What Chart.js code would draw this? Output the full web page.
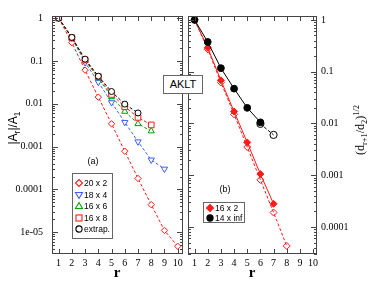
<!DOCTYPE html>
<html><head><meta charset="utf-8">
<script src="https://cdn.jsdelivr.net/npm/chart.js@4"></script>
<style>
html,body{margin:0;padding:0;background:#fff;}
#wrap{position:relative;width:374px;height:289px;overflow:hidden;background:#fff;}
canvas{position:absolute;left:0;top:0;}
.t{position:absolute;white-space:nowrap;color:#000;line-height:1;}
.sans{font-family:'Liberation Sans',Arial,sans-serif;}
.serif{font-family:'Liberation Serif','Times New Roman',serif;}
.box{position:absolute;border:1px solid #666;box-sizing:border-box;background:#fff;}
.rot{transform:translate(-50%,-50%) rotate(-90deg);}
.ctr{transform:translate(-50%,-50%);}
sub,sup{font-size:70%;line-height:0;}
</style></head>
<body><div id="wrap">
<canvas id="cL" width="374" height="289"></canvas>
<canvas id="cR" width="374" height="289"></canvas>
<div class="t sans rot" style="left:13px;top:128px;font-size:12px;">|A<sub>r</sub>|/A<sub>1</sub></div>
<div class="t serif rot" style="left:360px;top:130px;font-size:12px;">(d<sub>r+1</sub>/d<sub>2</sub>)<sup>1/2</sup></div>
<div class="t serif ctr" style="left:117px;top:272px;font-size:15px;font-weight:bold;">r</div>
<div class="t serif ctr" style="left:252px;top:272px;font-size:15px;font-weight:bold;">r</div>
<div class="box sans" style="left:163px;top:75px;width:40px;height:19px;font-size:11px;text-align:center;line-height:17px;">AKLT</div>
<div class="t sans ctr" style="left:93px;top:161px;font-size:9px;">(a)</div>
<div class="t sans ctr" style="left:225px;top:189px;font-size:9px;">(b)</div>
<div id="legA" class="box" style="left:72px;top:173px;width:41px;height:66px;background:transparent;"></div>
<div id="legB" class="box" style="left:203px;top:202px;width:42px;height:21px;background:transparent;"></div>
</div>
<script>
// ---------- data ----------
const rVals = [1, 2, 3, 4, 5, 6, 7, 8, 9, 10];
const xTickVals = [1, 2, 3, 4, 5, 6, 7, 8, 9, 10];

// panel (a): |A_r|/A_1
const a20x2  = [1, 0.267, 0.061, 0.0143, 0.0034, 0.00078, 0.00018, 0.000044, 0.000011, 0.0000047];
const a18x4  = [1, 0.34, 0.092, 0.032, 0.0107, 0.0037, 0.0013, 0.00049, 0.0003];
const a16x6  = [1, 0.345, 0.102, 0.040, 0.0145, 0.0066, 0.0034, 0.0023];
const a16x8  = [1, 0.35, 0.105, 0.043, 0.0165, 0.0085, 0.0048, 0.0032];
const aExtrap = [1, 0.355, 0.11, 0.044, 0.0193, 0.0098, 0.0061];
const leftNames = ['20 x 2', '18 x 4', '16 x 6', '16 x 8', 'extrap.'];
const leftYTicks = [1, 0.1, 0.01, 0.001, 0.0001, 0.00001];
const leftYTickLabels = ['1', '0.1', '0.01', '0.001', '0.0001', '1e-05'];

// panel (b): (d_{r+1}/d_2)^{1/2}
const b16x2      = [1, 0.29, 0.068, 0.017, 0.0043, 0.00105, 0.00028];
const b16x2Open  = [1, 0.27, 0.062, 0.015, 0.0035, 0.00081, 0.00019, 0.000043];
const b14xInf    = [1, 0.375, 0.117, 0.047, 0.020, 0.0105];
const b14xInfOpen = [null, null, null, null, null, 0.0098, 0.006];
const rightNames = ['16 x 2', '14 x inf'];
const rightYTicks = [1, 0.1, 0.01, 0.001, 0.0001];
const rightYTickLabels = ['1', '0.1', '0.01', '0.001', '0.0001'];

// ---------- helpers ----------
const RED = '#ff1a1a', BLUE = '#3c5cff', GREEN = '#00a300', BLACK = '#000';
const pts = arr => arr.map((v, i) => ({x: rVals[i], y: v})).filter(p => p.y !== null);

const frame = {
  id: 'frame',
  afterDraw(chart) {
    const {ctx, chartArea: a, scales: {x, y}} = chart;
    ctx.save();
    ctx.strokeStyle = '#444';
    ctx.lineWidth = 1;
    ctx.beginPath();
    for (const v of xTickVals) {
      const px = Math.round(x.getPixelForValue(v)) + 0.5;
      ctx.moveTo(px, a.bottom); ctx.lineTo(px, a.bottom - 5);
      ctx.moveTo(px, a.top); ctx.lineTo(px, a.top + 5);
    }
    const lo = Math.floor(Math.log10(y.min)), hi = Math.ceil(Math.log10(y.max));
    for (let e = lo; e <= hi; e++) {
      for (let m = 1; m < 10; m++) {
        const v = m * Math.pow(10, e);
        if (v < y.min || v > y.max) continue;
        const py = Math.round(y.getPixelForValue(v)) + 0.5;
        const len = m === 1 ? 6 : 3;
        ctx.moveTo(a.left, py); ctx.lineTo(a.left + len, py);
        ctx.moveTo(a.right, py); ctx.lineTo(a.right - len, py);
      }
    }
    ctx.stroke();
    ctx.strokeRect(Math.round(a.left) + 0.5, Math.round(a.top) + 0.5,
                   Math.round(a.right - a.left) - 1, Math.round(a.bottom - a.top) - 1);
    ctx.restore();
  }
};

function ds(label, data, color, style, opts = {}) {
  return Object.assign({
    label, data: pts(data), borderColor: color, pointBorderColor: color,
    pointBackgroundColor: 'rgba(255,255,255,0)', pointStyle: style,
    pointRadius: 3, pointBorderWidth: 1, borderWidth: 1,
    borderDash: [3, 2], showLine: true, tension: 0, fill: false, spanGaps: true
  }, opts);
}

const tickFont = {family: "'Liberation Serif','Times New Roman',serif", size: 10};

function makeScales(yMin, yMax, yTicks, yLabels, xMin, xMax, yPos, yPad) {
  return {
    x: {
      type: 'linear', min: xMin, max: xMax,
      afterBuildTicks: s => { s.ticks = xTickVals.map(v => ({value: v})); },
      afterFit: s => { s.height = 35; },
      grid: {display: false, drawTicks: false}, border: {display: false},
      ticks: {font: tickFont, color: '#000', padding: 3, maxRotation: 0, autoSkip: false,
              callback: v => String(v)}
    },
    y: {
      type: 'logarithmic', position: yPos, min: yMin, max: yMax,
      afterBuildTicks: s => { s.ticks = yTicks.map(v => ({value: v})); },
      afterFit: s => { s.width = 40; },
      grid: {display: false, drawTicks: false}, border: {display: false},
      ticks: {font: tickFont, color: '#000', padding: yPad, autoSkip: false,
              callback: v => { const i = yTicks.findIndex(t => Math.abs(t - v) / t < 1e-6); return i >= 0 ? yLabels[i] : ''; }}
    }
  };
}

const common = {
  responsive: false, animation: false, devicePixelRatio: 1,
  plugins: {legend: {display: false}, tooltip: {enabled: false}},
  events: []
};

new Chart(document.getElementById('cL'), {
  type: 'scatter',
  data: {datasets: [
    ds(leftNames[4], aExtrap, BLACK, 'circle', {pointBackgroundColor: '#fff'}),
    ds(leftNames[3], a16x8, RED, 'rect', {pointRadius: 4, pointBackgroundColor: '#fff'}),
    ds(leftNames[2], a16x6, GREEN, 'triangle', {pointRadius: 3.6, pointBackgroundColor: '#fff'}),
    ds(leftNames[1], a18x4, BLUE, 'triangle', {pointRadius: 3.6, pointRotation: 180, pointBackgroundColor: '#fff'}),
    ds(leftNames[0], a20x2, RED, 'rectRot', {pointRadius: 3.2, pointBackgroundColor: '#fff'})
  ]},
  options: Object.assign({}, common, {
    layout: {padding: {left: 12, top: 16, right: 191, bottom: 0}},
    scales: makeScales(3.1e-6, 1.12, leftYTicks, leftYTickLabels, 0.5, 10.4, 'left', 9)
  }),
  plugins: [frame]
});

new Chart(document.getElementById('cR'), {
  type: 'scatter',
  data: {datasets: [
    ds(rightNames[1], b14xInf, BLACK, 'circle', {pointRadius: 3.4, pointBackgroundColor: BLACK, borderDash: []}),
    ds(rightNames[0], b16x2, RED, 'rectRot', {pointRadius: 3.5, pointBackgroundColor: RED, borderDash: []}),
    ds('14 x inf (open)', b14xInfOpen, BLACK, 'circle', {pointRadius: 3.6}),
    ds('16 x 2 (open)', b16x2Open, RED, 'rectRot', {pointRadius: 3.5})
  ]},
  options: Object.assign({}, common, {
    layout: {padding: {left: 188, top: 16, right: 17, bottom: 0}},
    scales: makeScales(3.0e-5, 1.19, rightYTicks, rightYTickLabels, 0.5, 10.3, 'right', 4)
  }),
  plugins: [frame]
});

// ---------- HTML legends ----------
function sym(style, color, filled, rot) {
  const f = filled ? color : '#fff';
  let shape = '';
  if (style === 'rectRot') shape = `<polygon points="5,1.5 8.5,5 5,8.5 1.5,5" fill="${f}" stroke="${color}" stroke-width="1.1"/>`;
  else if (style === 'rect') shape = `<rect x="2" y="2" width="6" height="6" fill="${f}" stroke="${color}" stroke-width="1.1"/>`;
  else if (style === 'circle') shape = `<circle cx="5" cy="5" r="3.1" fill="${f}" stroke="${color}" stroke-width="1.1"/>`;
  else if (style === 'triangle') shape = rot ?
      `<polygon points="1.5,2.5 8.5,2.5 5,8.5" fill="${f}" stroke="${color}" stroke-width="1.1"/>` :
      `<polygon points="1.5,7.5 8.5,7.5 5,1.5" fill="${f}" stroke="${color}" stroke-width="1.1"/>`;
  return `<svg width="10" height="10" style="position:absolute;left:0;top:0">${shape}</svg>`;
}
function legend(id, entries, top0, step) {
  const el = document.getElementById(id);
  entries.forEach((e, i) => {
    const d = document.createElement('div');
    d.style.cssText = `position:absolute;left:1px;top:${top0 + i * step}px;height:10px;width:100%;`;
    d.innerHTML = sym(e[1], e[2], e[3], e[4]) +
      `<span class="sans" style="position:absolute;left:10px;top:0;font-size:8.5px;line-height:10px;white-space:nowrap;">${e[0]}</span>`;
    el.appendChild(d);
  });
}
legend('legA', [
  [leftNames[0], 'rectRot', RED, false],
  [leftNames[1], 'triangle', BLUE, false, true],
  [leftNames[2], 'triangle', GREEN, false],
  [leftNames[3], 'rect', RED, false],
  [leftNames[4], 'circle', BLACK, false]
], 4, 11.6);
legend('legB', [
  [rightNames[0], 'rectRot', RED, true],
  [rightNames[1], 'circle', BLACK, true]
], 0, 10);
</script>
</body></html>
